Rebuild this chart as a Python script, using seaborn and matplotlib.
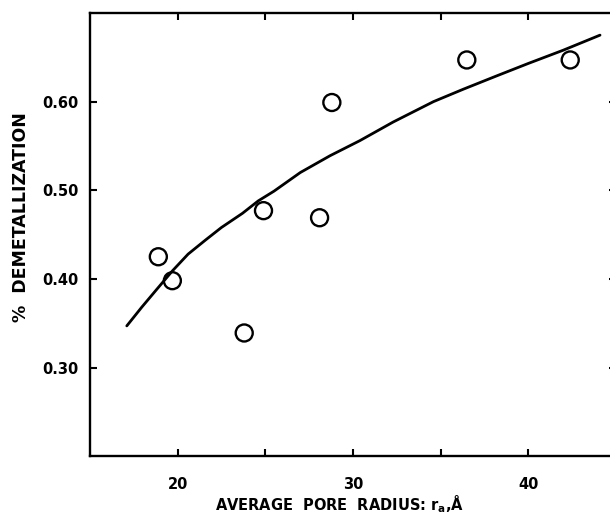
import numpy as np
import pandas as pd
import matplotlib
matplotlib.use('Agg')
import matplotlib.pyplot as plt
import seaborn as sns

# measured points
pore_radius = [18.9, 19.7, 23.8, 24.9, 28.1, 28.8, 36.5, 42.4]
demetal = [0.425, 0.398, 0.339, 0.477, 0.469, 0.599, 0.647, 0.647]

# fitted curve
curve_x = [17.1, 17.95, 18.8, 19.7, 20.6, 21.6, 22.5, 23.7, 24.6, 25.5,
           27.0, 28.7, 30.4, 32.3, 34.6, 36.3, 38.2, 40.0, 42.0, 44.1]
curve_y = [0.347, 0.368, 0.388, 0.409, 0.428, 0.444, 0.458, 0.474, 0.488, 0.499,
           0.520, 0.539, 0.556, 0.577, 0.600, 0.614, 0.629, 0.643, 0.658, 0.675]

x_ticks = [20, 25, 30, 35, 40]
x_labels = ['20', '', '30', '', '40']
y_ticks = [0.30, 0.40, 0.50, 0.60]
y_labels = ['0.30', '0.40', '0.50', '0.60']

sns.set_style('ticks')
plt.rcParams['font.family'] = ['DejaVu Sans']
plt.rcParams['font.weight'] = 'bold'
plt.rcParams['text.color'] = 'black'
plt.rcParams['axes.labelcolor'] = 'black'
plt.rcParams['xtick.color'] = 'black'
plt.rcParams['ytick.color'] = 'black'
plt.rcParams['axes.edgecolor'] = 'black'
plt.rcParams['mathtext.fontset'] = 'custom'
plt.rcParams['mathtext.bf'] = 'DejaVu Sans:bold'
plt.rcParams['mathtext.rm'] = 'DejaVu Sans:bold'

pts = pd.DataFrame({'r': pore_radius, 'd': demetal})
fit = pd.DataFrame({'r': curve_x, 'd': curve_y})

fig = plt.figure(figsize=(6.10, 5.19), dpi=100)
ax = fig.add_axes([0.1475, 0.121, 0.862, 0.854])

sns.lineplot(data=fit, x='r', y='d', color='black', linewidth=2.0, ax=ax, sort=False)
sns.scatterplot(data=pts, x='r', y='d', marker='o', s=150, facecolors='none',
                edgecolor='black', linewidth=1.7, ax=ax, zorder=3)

ax.set_xlim(15, 45)
ax.set_ylim(0.20, 0.70)
ax.set_xticks(x_ticks)
ax.set_xticklabels(x_labels)
ax.set_yticks(y_ticks)
ax.set_yticklabels(y_labels)
ax.tick_params(direction='in', length=5, width=1.5, top=True, right=True,
               labelsize=10.5, pad=8)
ax.tick_params(axis='x', pad=15)
for s in ax.spines.values():
    s.set_linewidth(1.7)
    s.set_visible(True)

ax.set_xlabel(r'AVERAGE  PORE  RADIUS: r$_\mathrm{a}$,Å', fontsize=10.5,
              fontweight='bold', va='baseline')
ax.xaxis.set_label_coords(0.475, -0.122)
ax.set_ylabel('%  DEMETALLIZATION', fontsize=12.5, fontweight='bold')
ax.yaxis.set_label_coords(-0.115, 0.54)

fig.savefig('out.png', dpi=100)
